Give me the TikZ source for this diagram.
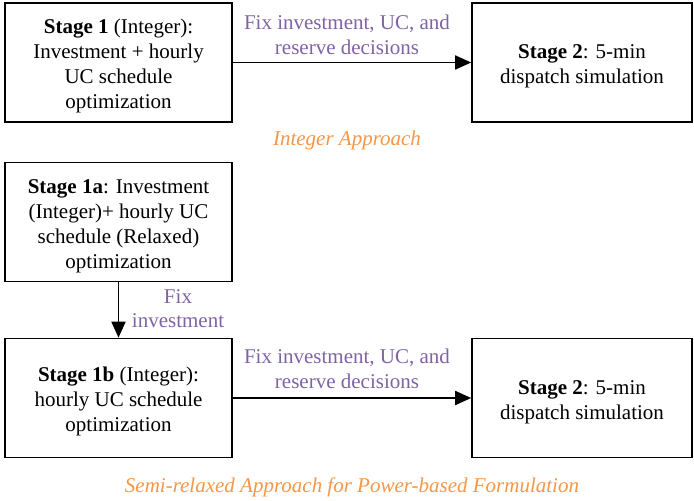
\documentclass[tikz,border=0pt]{standalone}
\usepackage{fontspec}
\setmainfont{Liberation Serif}
\usetikzlibrary{arrows.meta}

\definecolor{fixpurple}{HTML}{7F63A6}
\definecolor{apporange}{HTML}{F79646}

% extra room above the first line of a box
\newcommand{\topgap}{\rule{0pt}{21.5bp}}

\tikzset{
    stagebox/.style={draw, line width=1.6bp, minimum height=119bp, inner sep=2bp,
        align=center, font=\fontsize{21bp}{25bp}\selectfont},
    fixlabel/.style={text=fixpurple, align=center, inner sep=0pt,
        font=\fontsize{21bp}{24.5bp}\selectfont},
    approach/.style={text=apporange, inner sep=0pt,
        font=\fontsize{21bp}{25bp}\selectfont\itshape},
    flow/.style={-{Triangle[length=16bp,width=14bp]}, line width=1.8bp}
}

\begin{document}
\begin{tikzpicture}[x=1bp, y=-1bp]
            \useasboundingbox (0,0) rectangle (694,501);

            % Integer approach
            \node[stagebox, minimum width=227bp] (stageone) at (118.5,62.5)
                {\topgap\textbf{Stage 1} (Integer):\\Investment + hourly\\UC schedule\\optimization};
            \node[stagebox, minimum width=220bp] (stagetwo) at (582,62.5)
                {\topgap\textbf{Stage 2}: 5-min\\dispatch simulation};
            \draw[flow] (stageone) -- (stagetwo);
            \node[fixlabel] (fixtop) at (347,35) {Fix investment, UC, and\\reserve decisions};
            \node[approach] (intapp) at (347,140.5) {Integer Approach};

            % Semi-relaxed approach
            \node[stagebox, minimum width=227bp] (stageonea) at (118.5,222)
                {\topgap\textbf{Stage 1a}: Investment\\(Integer)+ hourly UC\\schedule (Relaxed)\\optimization};
            \node[stagebox, minimum width=227bp] (stageoneb) at (118.5,398)
                {\topgap\textbf{Stage 1b} (Integer):\\hourly UC schedule\\optimization};
            \node[stagebox, minimum width=220bp] (stagetwob) at (582,398)
                {\topgap\textbf{Stage 2}: 5-min\\dispatch simulation};
            \draw[flow] (stageonea) -- (stageoneb);
            \draw[flow] (stageoneb) -- (stagetwob);
            \node[fixlabel] (fixinv) at (178,308.5) {Fix\\investment};
            \node[fixlabel] (fixbot) at (347,369) {Fix investment, UC, and\\reserve decisions};
            \node[approach] (semiapp) at (352,487) {Semi-relaxed Approach for Power-based Formulation};
\end{tikzpicture}
\end{document}
